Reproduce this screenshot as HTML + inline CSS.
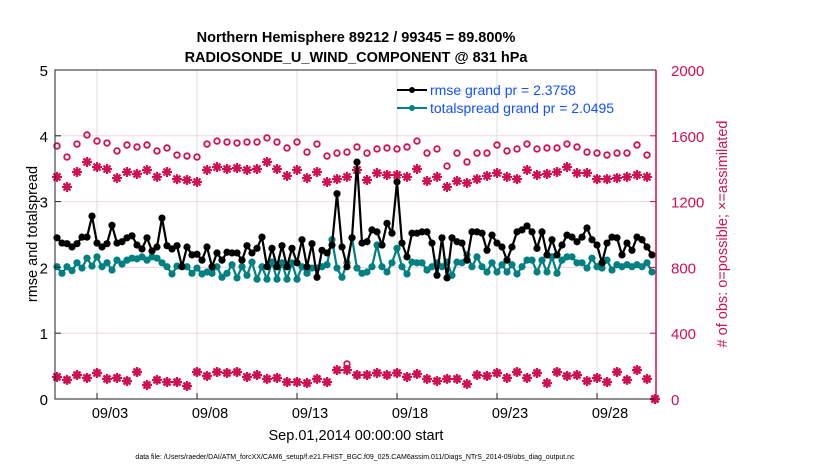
<!DOCTYPE html>
<html><head><meta charset="utf-8"><style>
body{margin:0;background:#fff;}
svg{display:block;font-family:"Liberation Sans",sans-serif;}
</style></head><body>
<svg id="chart" width="830" height="470" viewBox="0 0 830 470" xmlns="http://www.w3.org/2000/svg">
<text x="356" y="42" text-anchor="middle" font-size="14.5" font-weight="bold">Northern Hemisphere 89212 / 99345 = 89.800%</text>
<text x="356" y="62" text-anchor="middle" font-size="14.5" font-weight="bold">RADIOSONDE_U_WIND_COMPONENT @ 831 hPa</text>
<g id="grid"></g>
<g id="marks"></g>
<g id="axes"></g>
<text transform="translate(37,234) rotate(-90)" text-anchor="middle" font-size="14.5">rmse and totalspread</text>
<text transform="translate(727,234) rotate(-90)" text-anchor="middle" font-size="14.5" fill="#cc1450"># of obs: o=possible; ×=assimilated</text>
<text x="356" y="440" text-anchor="middle" font-size="14.5">Sep.01,2014 00:00:00 start</text>
<text x="355" y="459" text-anchor="middle" font-size="7">data file: /Users/raeder/DAI/ATM_forcXX/CAM6_setup/f.e21.FHIST_BGC.f09_025.CAM6assim.011/Diags_NTrS_2014-09/obs_diag_output.nc</text>
<g>
<line x1="397" y1="90" x2="427" y2="90" stroke="#000" stroke-width="2"/>
<circle cx="412" cy="90" r="3" fill="#000"/>
<text x="430" y="95" font-size="14" fill="#1450ff">rmse grand pr = 2.3758</text>
<line x1="397" y1="108" x2="427" y2="108" stroke="#008080" stroke-width="2"/>
<circle cx="412" cy="108" r="3" fill="#008080"/>
<text x="430" y="113" font-size="14" fill="#1450ff">totalspread grand pr = 2.0495</text>
</g>
</svg>
<script>
const rmse=[2.45,2.37,2.36,2.31,2.36,2.46,2.46,2.78,2.37,2.31,2.36,2.64,2.37,2.39,2.45,2.48,2.34,2.28,2.45,2.25,2.31,2.75,2.33,2.28,2.33,2.01,2.31,2.19,2.20,2.11,2.31,2.01,2.22,2.11,2.23,2.22,2.22,2.11,2.33,2.22,2.29,2.46,2.01,2.29,2.01,2.33,2.01,2.29,2.07,2.42,2.01,2.36,1.85,2.26,2.22,2.34,3.12,2.31,2.01,2.45,3.60,2.37,
2.39,2.57,2.54,2.34,2.67,2.52,3.30,2.37,2.16,2.52,2.52,2.54,2.54,2.37,1.88,2.45,1.84,2.45,2.39,2.37,2.11,2.54,2.54,2.52,2.26,2.49,2.37,2.31,2.11,2.31,2.54,2.57,2.63,2.54,2.29,2.54,2.19,2.42,2.19,2.34,2.49,2.46,2.39,2.46,2.60,2.42,2.34,2.07,2.37,2.46,2.45,2.19,2.37,2.26,2.46,2.42,2.31,2.19];
const spread=[2.01,1.91,2.01,1.95,2.07,1.99,2.14,2.02,2.16,2.01,2.07,1.96,2.11,2.05,2.11,2.14,2.13,2.16,2.11,2.16,2.14,2.07,2.01,1.90,2.02,2.02,2.01,1.91,1.99,1.90,1.93,1.91,2.01,1.85,1.91,2.04,1.84,2.01,1.88,2.08,1.82,2.01,1.82,2.08,1.82,2.07,1.82,2.07,1.82,2.01,1.91,1.99,1.99,2.01,2.04,2.42,1.99,1.85,2.07,2.45,1.99,1.91,
1.93,2.01,2.34,2.01,1.93,2.07,2.29,2.01,1.90,2.08,2.07,2.07,1.96,2.01,2.07,2.01,2.08,1.88,2.08,2.07,2.19,2.01,2.16,2.01,1.93,2.07,1.93,2.04,1.93,2.04,1.90,2.01,2.11,2.11,1.93,2.11,1.93,2.16,1.91,2.11,2.16,2.16,2.07,2.07,1.99,2.14,2.01,1.99,2.11,1.96,2.04,2.01,2.04,2.01,2.04,2.01,2.07,1.93];
const nPossTop=[1538,1471,1550,1605,1568,1556,1508,1544,1532,1544,1508,1526,1483,1477,1471,1550,1568,1562,1556,1562,1562,1587,1562,1526,1562,1501,1550,1477,1495,1501,1532,
1495,1520,1526,1520,1532,1568,1495,1520,1416,1495,1441,1495,1495,1544,1508,1520,1550,1520,1526,1526,1550,1532,1501,1495,1483,1495,1495,1544,1483,0];
const nAssimTop=[1350,1289,1380,1441,1410,1398,1343,1380,1368,1392,1350,1380,1337,1331,1319,1392,1410,1398,1404,1392,1398,1441,1398,1356,1392,1343,1380,1319,1337,1350,1392,
1331,1374,1362,1362,1350,1398,1325,1350,1289,1325,1313,1337,1356,1374,1350,1337,1392,1362,1368,1380,1410,1374,1374,1337,1337,1343,1350,1362,1350,0];
const nAssimBot=[134,116,146,128,158,122,128,109,164,85,116,103,103,79,164,140,164,158,164,134,146,122,128,103,103,97,122,103,176,176,
146,146,158,146,158,134,152,122,109,122,122,91,146,140,158,128,164,128,158,97,164,140,146,109,128,103,164,116,176,122,0];
const nPossBot=[134,116,146,128,158,122,128,109,164,85,116,103,103,79,164,140,164,158,164,134,146,122,128,103,103,97,122,103,176,213,
146,146,158,146,158,134,152,122,109,122,122,91,146,140,158,128,164,128,158,97,164,140,146,109,128,103,164,116,176,122,0];
const xTickDays=[2,7,12,17,22,27];
const xTickLabels=["09/03","09/08","09/13","09/18","09/23","09/28"];
const yLeftTicks=[0,1,2,3,4,5];
const yRightTicks=[0,400,800,1200,1600,2000];

const NS="http://www.w3.org/2000/svg";
const L=55,R=656,T=70,B=399;
const xS=d=>57+20*d;
const yL=v=>B-(v/5)*(B-T);
const yR=v=>B-(v/2000)*(B-T);
const RED="#d0104f";
function mk(tag,attrs,parent){const e=document.createElementNS(NS,tag);for(const k in attrs)e.setAttribute(k,attrs[k]);parent.appendChild(e);return e;}
const grid=document.getElementById('grid'),marks=document.getElementById('marks'),axes=document.getElementById('axes');

xTickDays.forEach((d,i)=>{
  const g=mk('line',{x1:xS(d),x2:xS(d),y1:T,y2:B,stroke:'#dedede','stroke-width':1},grid);
  
  
  const tk=mk('line',{x1:xS(d),x2:xS(d),y1:B,y2:B-6,stroke:'#222','stroke-width':1},axes);
  
  
  const t=mk('text',{x:xS(d)+13,y:B+19,'text-anchor':'middle','font-size':14.5},axes);
  t.textContent=xTickLabels[i];
  
  
});
yRightTicks.forEach(v=>{
  if(v>0&&v<2000){const g=mk('line',{x1:L,x2:R,y1:yR(v),y2:yR(v),stroke:'#f2d4de','stroke-width':1},grid);
  
  }
  const tk=mk('line',{x1:R,x2:R-6,y1:yR(v),y2:yR(v),stroke:RED,'stroke-width':1},axes);
  
  
  const t=mk('text',{x:R+15,y:yR(v)+6,'font-size':15,fill:RED},axes);
  t.textContent=v;
  
  
});
yLeftTicks.forEach(v=>{
  const tk=mk('line',{x1:L,x2:L+6,y1:yL(v),y2:yL(v),stroke:'#222','stroke-width':1},axes);
  
  
  const t=mk('text',{x:L-7,y:yL(v)+6,'font-size':15,'text-anchor':'end'},axes);
  t.textContent=v;
  
  
});
const frame=mk('path',{d:`M${R},${T}H${L}V${B}H${R}`,fill:'none',stroke:'#222','stroke-width':1},axes);


const rax=mk('line',{x1:R,x2:R,y1:T,y2:B,stroke:RED,'stroke-width':1.5},axes);



function star(x,y,name){
  const p=mk('path',{d:`M${x-5},${y}H${x+5}M${x},${y-5}V${y+5}M${x-3.5},${y-3.5}L${x+3.5},${y+3.5}M${x-3.5},${y+3.5}L${x+3.5},${y-3.5}`,stroke:RED,'stroke-width':2.2,fill:'none'},marks);
  
  
}
function circ(x,y,name){
  const c=mk('circle',{cx:x,cy:y,r:2.8,fill:'none',stroke:RED,'stroke-width':1.8},marks);
  
  
}
nPossTop.forEach((v,i)=>circ(Math.min(xS(i*0.5),655),yR(v),'possible-obs-point'));
nPossBot.forEach((v,i)=>circ(Math.min(xS(i*0.5),655),yR(v),'possible-obs-point'));
nAssimTop.forEach((v,i)=>star(Math.min(xS(i*0.5),655),yR(v),'assimilated-obs-point'));
nAssimBot.forEach((v,i)=>star(Math.min(xS(i*0.5),655),yR(v),'assimilated-obs-point'));

function series(arr,color,name){
  const pts=arr.map((v,i)=>xS(i*0.25).toFixed(1)+','+yL(v).toFixed(1)).join(' ');
  const pl=mk('polyline',{points:pts,fill:'none',stroke:color,'stroke-width':2.2},marks);
  
  
  arr.forEach((v,i)=>{
    const c=mk('circle',{cx:xS(i*0.25),cy:yL(v),r:3.6,fill:color},marks);
    
    
  });
}
series(spread,'#008080','totalspread');
series(rmse,'#000000','rmse');
</script>
</body></html>
